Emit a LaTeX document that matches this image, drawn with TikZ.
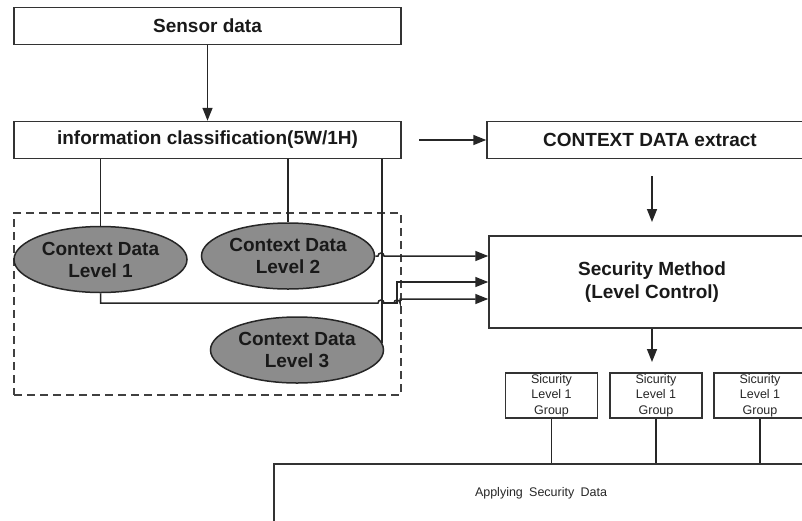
\documentclass[tikz,border=0pt]{standalone}
\usepackage{fontspec}
\setmainfont{Liberation Sans}
\usetikzlibrary{arrows.meta,shapes.geometric}
\tikzset{
  box/.style={draw=black!80, line width=1.5pt, minimum height=37pt, inner sep=0pt,
    text=black!90, font=\fontsize{19}{23}\selectfont\bfseries, align=center},
  level/.style={ellipse, draw=black!85, line width=1.5pt, fill=black!45, inner sep=0pt,
    minimum width=173pt, minimum height=66pt, text=black!90,
    font=\fontsize{19}{22}\selectfont\bfseries, align=center},
  group/.style={draw=black!80, line width=1.3pt, inner sep=0pt, minimum width=92pt,
    minimum height=45pt, text=black!85, font=\fontsize{12.5}{15.5}\selectfont, align=center},
  frame/.style={draw=black!75, line width=1.5pt, dash pattern=on 8pt off 5pt,
    minimum width=387pt, minimum height=182pt},
  wire/.style={draw=black!85, line width=1.5pt}
}

\begin{document}
\begin{tikzpicture}[x=1pt,y=-1pt,>={Triangle[length=13pt,width=10pt]}]
\useasboundingbox (0,0) rectangle (802,520);
\clip (0,0) rectangle (802,520);
% Boxes:
\node (sensor) [box, minimum width=387pt] at (207.5,26) {Sensor data};
\node (info) [box, minimum width=387pt] at (207.5,140) {information classification(5W/1H)};
\node (ctx) [box, minimum width=326pt] at (650,140) {CONTEXT DATA extract};
\node (sec) [box, minimum width=326pt, minimum height=92pt] at (652,282) {Security Method\\(Level Control)};
% Context levels:
\node (grp) [frame] at (207.5,304) {};
\node (lv1) [level] at (100.5,259.5) {Context Data\\Level 1};
\node (lv2) [level] at (288,256) {Context Data\\Level 2};
\node (lv3) [level] at (297,350) {Context Data\\Level 3};
% Security groups:
\foreach \x/\n in {551.5/1,656/2,760/3}
  \node (sg\n) [group] at (\x,395.5) {Sicurity\\Level 1\\Group};
\node (apply) [group, minimum width=534pt, minimum height=58pt] at (541,493) {Applying\enspace Security\enspace Data};
% Arrows:
\coordinate (out1) at (419,140);
\coordinate (down1) at (652,176);
\coordinate (down2) at (652,222);
\coordinate (down3) at (652,362);
\draw[wire,->] (sensor) -- (info);
\draw[wire,->] (out1) -- (ctx.west);
\draw[wire,->] (down1) -- (down2);
\draw[wire,->] (sec.south) -- (down3);
\draw[wire] (info.south -| lv1.north) -- (lv1.north);
\draw[wire] (info.south -| lv2.north) -- (lv2.north);
\draw[wire] (info.south -| lv3.5) -- (lv3.5);
\draw[wire,->] (lv2.east) -- (378,256) arc[start angle=180,end angle=0,radius=3pt] -- (sec.west |- lv2.east);
\draw[wire,->] (lv3.5) -- (lv3.5 |- 0,303) -- (397,303) -- (397,282) -- (sec.west);
\draw[wire,->] (lv1.south) |- (378,303) arc[start angle=180,end angle=0,radius=3pt]
  -- (394,303) arc[start angle=180,end angle=0,radius=3pt] -- (400,299) -- (sec.west |- 400,299);
\foreach \n in {1,2,3}
  \draw[wire] (sg\n.south) -- (sg\n.south |- apply.north);
\end{tikzpicture}
\end{document}
